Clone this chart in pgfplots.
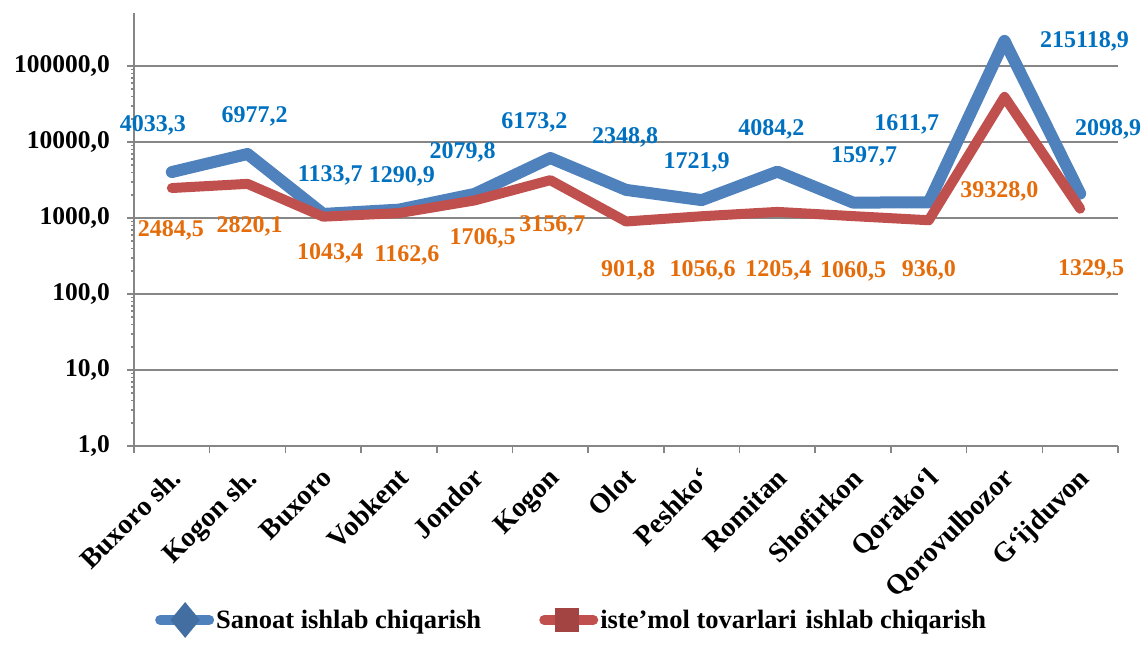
\documentclass[border=0pt]{standalone}
\usepackage{fontspec}
\setmainfont{Liberation Serif}
\usepackage{pgfplots}
\pgfplotsset{compat=1.18}
\usepackage{pgfplotstable}

\definecolor{sblue}{HTML}{4F81BD}
\definecolor{sred}{HTML}{C0504D}
\definecolor{lblue}{HTML}{0070C0}
\definecolor{lorange}{HTML}{E46C0A}
\definecolor{axgray}{HTML}{868686}

% x = category centre, s/r = values, *dx/*dy = label offsets in pt
\pgfplotstableread{
x    s         sdx  sdy  r        rdx  rdy
0.5  4033.3    -19  47   2484.5   -1   -42
1.5  6977.2    7    38   2820.1   2    -43
2.5  1133.7    7    39   1043.4   7    -37
3.5  1290.9    3    33   1162.6   8    -42
4.5  2079.8    -12  42   1706.5   8    -38
5.5  6173.2    -16  36   3156.7   2    -45
6.5  2348.8    -1   53   901.8    2    -49
7.5  1721.9    -5   38   1056.6   1    -54
8.5  4084.2    -6   42   1205.4   1    -58
9.5  1597.7    11   46   1060.5   0    -55
10.5 1611.7    -22  78   936.0    0    -50
11.5 215118.9  80   -1   39328.0  -5   -94
12.5 2098.9    28   64   1329.5   11   -61
}\data

\pgfplotsset{
    vlabel/.style={
        draw=none, forget plot,
        nodes near coords={\pgfmathprintnumber[fixed, fixed zerofill, precision=1, use comma, 1000 sep={}, assume math mode=true]{\pgfplotspointmeta}},
        point meta=explicit,
        every node near coord/.style={text=#1, font=\fontsize{24}{26}\selectfont\bfseries, anchor=center, inner sep=0pt, xshift=\dx, yshift=\dy},
    },
}

\begin{document}
\begin{tikzpicture}
\path[use as bounding box] (0,0) rectangle (1142pt,651pt);
\begin{axis}[
    at={(134pt,205pt)}, anchor=south west,
    scale only axis, width=984pt, height=433pt,
    clip=false,
    xmin=0, xmax=13,
    ymode=log, ymin=1, ymax=5e5,
    axis lines*=left,
    axis line style={axgray, line width=2pt},
    tick align=outside,
    major tick length=7pt,
    tick style={axgray, line width=1.5pt},
    xtick={0,1,...,13},
    xticklabels={},
    extra x ticks={0.5,1.5,...,12.5},
    extra x tick style={major tick length=0pt},
    extra x tick labels={Buxoro sh.,Kogon sh.,Buxoro,Vobkent,Jondor,Kogon,Olot,Peshko‘,Romitan,Shofirkon,Qorako‘l,Qorovulbozor,G‘ijduvon},
    x tick label style={font=\fontsize{28}{30}\selectfont\bfseries, xshift=-3pt, yshift=-20pt, rotate=45, anchor=north east, inner sep=0pt},
    ytick={1,10,100,1000,10000,100000},
    yticklabels={{1,0},{10,0},{100,0},{1000,0},{10000,0},{100000,0}},
    minor ytick={},
    y tick label style={font=\fontsize{25.5}{28}\selectfont\bfseries, inner sep=0pt, xshift=-17pt},
    ymajorgrids,
    grid style={axgray, line width=2pt},
    legend columns=2,
    legend style={at={(0.0213,-0.4018)}, anchor=west, draw=none, fill=none,
        inner sep=0pt, font=\fontsize{26.5}{29}\selectfont\bfseries,
        nodes={inner sep=0pt, anchor=west},
        /tikz/every odd column/.append style={column sep=2pt},
        /tikz/every even column/.append style={column sep=58pt}},
]
\addplot[sblue, line width=12pt, line join=round, line cap=round,
    legend image code/.code={
        \draw[sblue, line width=10pt, line cap=round] (5pt,0pt) -- (54pt,0pt);
        \fill[sblue!85!black, line join=miter] (30pt,8.5pt) -- (37pt,0pt) -- (30pt,-8.5pt) -- (23pt,0pt) -- cycle;}
    ] table[x=x, y=s] {\data};
\addlegendentry{Sanoat ishlab chiqarish}
\addplot[sred, line width=10pt, line join=round, line cap=round,
    legend image code/.code={
        \draw[sred, line width=10pt, line cap=round] (5pt,0pt) -- (54pt,0pt);
        \fill[sred!85!black, line join=miter] (21pt,-7pt) rectangle (35pt,7pt);}
    ] table[x=x, y=r] {\data};
\addlegendentry{iste’mol tovarlari\hspace{9pt}ishlab chiqarish}

\addplot[vlabel=lblue,
    visualization depends on={\thisrow{sdx}\as\dx},
    visualization depends on={\thisrow{sdy}\as\dy},
    ] table[x=x, y=s, meta=s] {\data};
\addplot[vlabel=lorange,
    visualization depends on={\thisrow{rdx}\as\dx},
    visualization depends on={\thisrow{rdy}\as\dy},
    ] table[x=x, y=r, meta=r] {\data};
\end{axis}
\end{tikzpicture}
\end{document}
